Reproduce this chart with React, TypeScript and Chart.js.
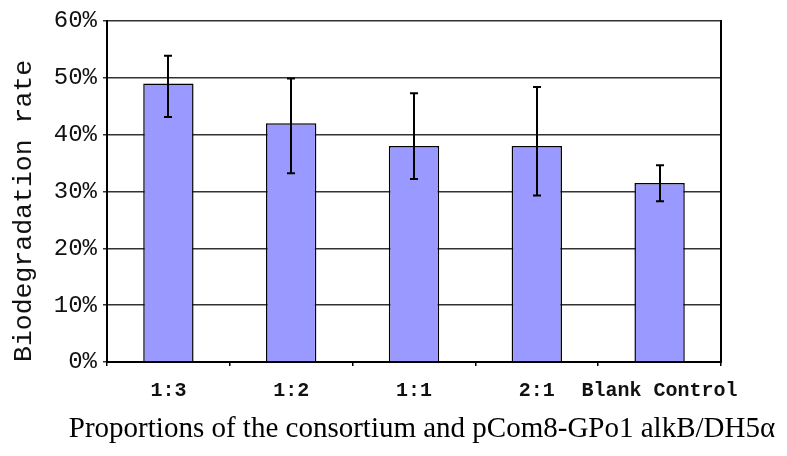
import React, { useEffect, useRef } from 'react';
import { Chart, registerables } from 'chart.js';

Chart.register(...registerables);

const categories = ['1:3', '1:2', '1:1', '2:1', 'Blank Control'];
const rates = [49, 42, 38, 38, 31.5];
const errUpper = [53.9, 49.9, 47.3, 48.4, 34.6];
const errLower = [43.1, 33.2, 32.2, 29.3, 28.3];
const yTicks = [0, 10, 20, 30, 40, 50, 60];

const xTitle = 'Proportions of the consortium and pCom8-GPo1 alkB/DH5\u03b1';
const yTitle = 'Biodegradation rate';

const errorBarPlugin = {
  id: 'errorBars',
  afterDatasetsDraw(chart: any) {
    const { ctx } = chart;
    const y = chart.scales.y;
    const meta = chart.getDatasetMeta(0);
    ctx.save();
    ctx.strokeStyle = '#000';
    ctx.lineWidth = 2;
    meta.data.forEach((bar: any, i: number) => {
      const px = Math.round(bar.x);
      const yt = y.getPixelForValue(errUpper[i]);
      const yb = y.getPixelForValue(errLower[i]);
      ctx.beginPath();
      ctx.moveTo(px, yt);
      ctx.lineTo(px, yb);
      ctx.moveTo(px - 4, yt);
      ctx.lineTo(px + 4, yt);
      ctx.moveTo(px - 4, yb);
      ctx.lineTo(px + 4, yb);
      ctx.stroke();
    });
    ctx.restore();
  },
};

// x-axis title drawn without Chart.js's maxWidth squeeze (the reference title is wider than the plot area)
const xTitlePlugin = {
  id: 'xTitle',
  afterDraw(chart: any) {
    const { ctx } = chart;
    const x = chart.scales.x;
    ctx.save();
    ctx.font = '29px "Liberation Serif"';
    ctx.fillStyle = '#000';
    ctx.textAlign = 'center';
    ctx.textBaseline = 'alphabetic';
    ctx.fillText(xTitle, (x.left + x.right) / 2 + 8, x.bottom - 19);
    ctx.restore();
  },
};

export default function App() {
  const ref = useRef<HTMLCanvasElement>(null);
  useEffect(() => {
    document.body.style.margin = '0';
    const chart = new Chart(ref.current as HTMLCanvasElement, {
      type: 'bar',
      data: {
        labels: categories,
        datasets: [
          {
            data: rates,
            backgroundColor: '#9999FF',
            borderColor: '#000',
            borderWidth: 1.5,
            categoryPercentage: 0.41,
            barPercentage: 1,
          },
        ],
      },
      options: {
        animation: false,
        responsive: false,
        devicePixelRatio: 1,
        layout: { padding: { top: 21, left: 0, right: 0, bottom: 0 } },
        plugins: { legend: { display: false }, tooltip: { enabled: false } },
        scales: {
          x: {
            grid: { offset: true, drawOnChartArea: false, tickLength: 4, color: '#000', lineWidth: 1.5 },
            border: { color: '#000', width: 2 },
            ticks: {
              font: { family: 'Liberation Mono', size: 20, weight: 'bold' },
              color: '#111',
              padding: 13,
              maxRotation: 0,
              autoSkip: false,
            },
            title: { display: false },
            afterFit: (s: any) => {
              s.height = 94;
            },
          },
          y: {
            min: 0,
            max: 60,
            afterBuildTicks: (s: any) => {
              s.ticks = yTicks.map((v) => ({ value: v }));
            },
            ticks: {
              callback: (v: any) => v + '%',
              font: { family: 'Liberation Mono', size: 24 },
              color: '#111',
              padding: 6,
            },
            grid: { color: '#333', lineWidth: 1.5, tickLength: 4 },
            border: { color: '#000', width: 2 },
            title: {
              display: true,
              text: yTitle,
              align: 'start',
              color: '#111',
              font: { family: 'Liberation Mono', size: 26.5, lineHeight: 1 },
              padding: { top: 11, bottom: 0 },
            },
            afterFit: (s: any) => {
              s.width = 107;
            },
          },
          y2: {
            position: 'right',
            min: 0,
            max: 60,
            ticks: { display: false },
            grid: { drawOnChartArea: false, drawTicks: false },
            border: { color: '#000', width: 2 },
            afterFit: (s: any) => {
              s.width = 66;
            },
          },
        },
      },
      plugins: [errorBarPlugin, xTitlePlugin],
    } as any);
    return () => chart.destroy();
  }, []);
  return (
    <canvas
      ref={ref}
      width={787}
      height={456}
      style={{ display: 'block', width: '787px', height: '456px' }}
    />
  );
}
